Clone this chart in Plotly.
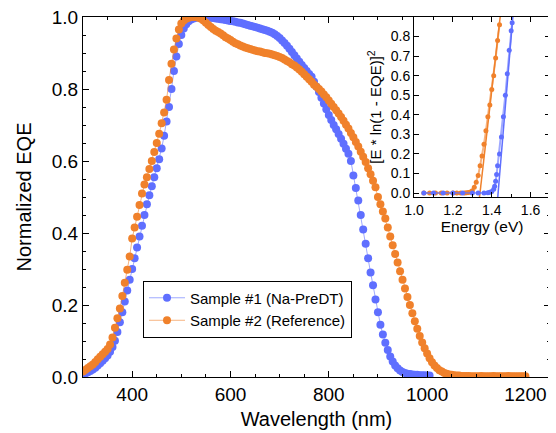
import plotly.graph_objects as go

# ---------------- main EQE data (normalized) ----------------
wl_orange = [
    300, 305, 310, 315, 320, 325, 330, 335, 340, 345, 350, 355, 360, 365, 370, 375, 380, 385, 390, 395,
    400, 405, 410, 415, 420, 425, 430, 435, 440, 445, 450, 455, 460, 465, 470, 475, 480, 485, 490, 495,
    500, 505, 510, 515, 520, 525, 530, 535, 540, 545, 550, 555, 560, 565, 570, 575, 580, 585, 590, 595,
    600, 605, 610, 615, 620, 625, 630, 635, 640, 645, 650, 655, 660, 665, 670, 675, 680, 685, 690, 695,
    700, 705, 710, 715, 720, 725, 730, 735, 740, 745, 750, 755, 760, 765, 770, 775, 780, 785, 790, 795,
    800, 805, 810, 815, 820, 825, 830, 835, 840, 845, 850, 855, 860, 865, 870, 875, 880, 885, 890, 895,
    900, 905, 910, 915, 920, 925, 930, 935, 940, 945, 950, 955, 960, 965, 970, 975, 980, 985, 990, 995,
    1000, 1005, 1010, 1015, 1020, 1025, 1030, 1035, 1040, 1045, 1050, 1055, 1060, 1065, 1070, 1075, 1080, 1085, 1090, 1095,
    1100, 1105, 1110, 1115, 1120, 1125, 1130, 1135, 1140, 1145, 1150, 1155, 1160, 1165, 1170, 1175, 1180, 1185, 1190, 1195, 1200,
]
eqe_orange = [
    0.015, 0.02, 0.025, 0.03, 0.035, 0.042, 0.049, 0.056, 0.063, 0.07, 0.078, 0.09, 0.11, 0.137, 0.163, 0.19, 0.225, 0.262, 0.298, 0.335,
    0.385, 0.415, 0.445, 0.478, 0.51, 0.535, 0.555, 0.578, 0.60, 0.625, 0.65, 0.676, 0.705, 0.735, 0.77, 0.825, 0.87, 0.91, 0.94, 0.965,
    0.982, 0.99, 0.995, 0.998, 1.0, 1.0, 1.0, 0.998, 0.995, 0.99, 0.984, 0.978, 0.972, 0.967, 0.962, 0.958, 0.954, 0.949, 0.944, 0.94,
    0.936, 0.931, 0.927, 0.924, 0.921, 0.918, 0.915, 0.913, 0.911, 0.909, 0.907, 0.905, 0.904, 0.902, 0.9, 0.899, 0.898, 0.896, 0.894, 0.892,
    0.889, 0.886, 0.882, 0.878, 0.874, 0.869, 0.865, 0.86, 0.854, 0.848, 0.841, 0.834, 0.827, 0.82, 0.812, 0.806, 0.8, 0.793, 0.785, 0.777,
    0.768, 0.759, 0.75, 0.741, 0.732, 0.722, 0.712, 0.701, 0.69, 0.678, 0.666, 0.653, 0.64, 0.626, 0.612, 0.597, 0.58, 0.563, 0.545, 0.527,
    0.5, 0.48, 0.46, 0.44, 0.415, 0.39, 0.366, 0.342, 0.318, 0.294, 0.27, 0.246, 0.222, 0.2, 0.177, 0.155, 0.134, 0.114, 0.096, 0.08,
    0.065, 0.052, 0.041, 0.032, 0.025, 0.019, 0.015, 0.011, 0.009, 0.007, 0.006, 0.005, 0.004, 0.004, 0.003, 0.003, 0.003, 0.003, 0.002, 0.002,
    0.002, 0.002, 0.003, 0.002, 0.002, 0.002, 0.002, 0.003, 0.002, 0.002, 0.002, 0.002, 0.002, 0.003, 0.002, 0.002, 0.002, 0.002, 0.002, 0.002, 0.002,
]

wl_blue = [
    300, 305, 310, 315, 320, 325, 330, 335, 340, 345, 350, 355, 360, 365, 370, 375, 380, 385, 390, 395,
    400, 405, 410, 415, 420, 425, 430, 435, 440, 445, 450, 455, 460, 465, 470, 475, 480, 485, 490, 495,
    500, 505, 510, 515, 520, 525, 530, 535, 540, 545, 550, 555, 560, 565, 570, 575, 580, 585, 590, 595,
    600, 605, 610, 615, 620, 625, 630, 635, 640, 645, 650, 655, 660, 665, 670, 675, 680, 685, 690, 695,
    700, 705, 710, 715, 720, 725, 730, 735, 740, 745, 750, 755, 760, 765, 770, 775, 780, 785, 790, 795,
    800, 805, 810, 815, 820, 825, 830, 835, 840, 845, 850, 855, 860, 865, 870, 875, 880, 885, 890, 895,
    900, 905, 910, 915, 920, 925, 930, 935, 940, 945, 950, 955, 960, 965, 970, 975, 980, 985, 990, 995, 1000, 1005,
]
eqe_blue = [
    0.008, 0.01, 0.013, 0.017, 0.021, 0.026, 0.032, 0.038, 0.045, 0.052, 0.06, 0.07, 0.083, 0.101, 0.125, 0.152, 0.18, 0.21, 0.24, 0.27,
    0.3, 0.33, 0.36, 0.39, 0.42, 0.45, 0.48, 0.505, 0.53, 0.555, 0.58, 0.605, 0.635, 0.67, 0.71, 0.75, 0.80, 0.85, 0.89, 0.925,
    0.95, 0.968, 0.98, 0.988, 0.993, 0.996, 0.998, 0.999, 1.0, 1.0, 1.0, 0.999, 0.998, 0.997, 0.996, 0.995, 0.994, 0.993, 0.992, 0.99,
    0.989, 0.988, 0.987, 0.985, 0.984, 0.982, 0.98, 0.978, 0.976, 0.974, 0.972, 0.97, 0.968, 0.966, 0.964, 0.962, 0.959, 0.956, 0.952, 0.947,
    0.942, 0.935, 0.928, 0.92, 0.912, 0.903, 0.894, 0.885, 0.876, 0.867, 0.858, 0.85, 0.842, 0.834, 0.82, 0.806, 0.792, 0.776, 0.76, 0.744,
    0.728, 0.714, 0.7, 0.688, 0.675, 0.662, 0.648, 0.634, 0.62, 0.6, 0.56, 0.525, 0.49, 0.45, 0.41, 0.37, 0.33, 0.29, 0.255, 0.215,
    0.18, 0.145, 0.118, 0.095, 0.075, 0.057, 0.043, 0.032, 0.024, 0.018, 0.014, 0.011, 0.009, 0.008, 0.007, 0.006, 0.006, 0.005, 0.005, 0.005, 0.004, 0.004,
]

# ---------------- inset: [E * ln(1 - EQE)]^2 vs energy ----------------
e_orange = [1.05, 1.08, 1.11, 1.14, 1.17, 1.20, 1.22, 1.24, 1.26, 1.27, 1.28, 1.29, 1.30, 1.31,
            1.32, 1.33, 1.34, 1.35, 1.36, 1.37, 1.38, 1.39, 1.40, 1.41, 1.42, 1.43, 1.44]
t_orange = [0.0, 0.0, 0.0, 0.0, 0.0, 0.0, 0.0, 0.001, 0.001, 0.002, 0.003, 0.006, 0.012, 0.03,
            0.055, 0.09, 0.14, 0.19, 0.25, 0.318, 0.39, 0.45, 0.53, 0.6, 0.69, 0.78, 0.86]
e_blue = [1.05, 1.10, 1.15, 1.20, 1.25, 1.30, 1.33, 1.36, 1.38, 1.39, 1.40, 1.41, 1.415, 1.42,
          1.425, 1.43, 1.44, 1.45, 1.46, 1.47, 1.48, 1.49, 1.50, 1.505]
t_blue = [0.0, 0.0, 0.0, 0.0, 0.0, 0.0, 0.0, 0.001, 0.002, 0.004, 0.008, 0.02, 0.035, 0.06,
          0.095, 0.14, 0.2, 0.287, 0.39, 0.5, 0.61, 0.73, 0.83, 0.87]
fit_orange_e = [1.337, 1.444]
fit_orange_t = [-0.02, 0.906]
fit_blue_e = [1.431, 1.509]
fit_blue_t = [-0.02, 0.906]

main_x_ticks = [400, 600, 800, 1000, 1200]
main_y_ticks = [0.0, 0.2, 0.4, 0.6, 0.8, 1.0]
inset_x_ticks = [1.0, 1.2, 1.4, 1.6]
inset_y_ticks = [0.0, 0.1, 0.2, 0.3, 0.4, 0.5, 0.6, 0.7, 0.8]

BLUE = "#5F6FFF"
ORANGE = "#F0812B"
FONT = "Liberation Sans, Arial, Helvetica, sans-serif"

fig = go.Figure()

fig.add_trace(go.Scatter(
    x=wl_blue, y=eqe_blue, mode="lines+markers", name="Sample #1 (Na-PreDT)",
    line=dict(color="rgba(95,111,255,0.6)", width=1),
    marker=dict(color=BLUE, size=8, line=dict(width=0)),
    xaxis="x", yaxis="y"))
fig.add_trace(go.Scatter(
    x=wl_orange, y=eqe_orange, mode="lines+markers", name="Sample #2 (Reference)",
    line=dict(color="rgba(240,129,43,0.6)", width=1),
    marker=dict(color=ORANGE, size=8, line=dict(width=0)),
    xaxis="x", yaxis="y"))

# inset traces
fig.add_trace(go.Scatter(
    x=e_orange, y=t_orange, mode="lines+markers", showlegend=False,
    line=dict(color="rgba(240,129,43,0.6)", width=2),
    marker=dict(color=ORANGE, size=5),
    xaxis="x2", yaxis="y2"))
fig.add_trace(go.Scatter(
    x=fit_orange_e, y=fit_orange_t, mode="lines", showlegend=False,
    line=dict(color=ORANGE, width=1.5),
    xaxis="x2", yaxis="y2"))
fig.add_trace(go.Scatter(
    x=e_blue, y=t_blue, mode="lines+markers", showlegend=False,
    line=dict(color="rgba(95,111,255,0.6)", width=2),
    marker=dict(color=BLUE, size=5),
    xaxis="x2", yaxis="y2"))
fig.add_trace(go.Scatter(
    x=fit_blue_e, y=fit_blue_t, mode="lines", showlegend=False,
    line=dict(color=BLUE, width=1.5),
    xaxis="x2", yaxis="y2"))

axis_common = dict(showline=True, linecolor="black", linewidth=1, mirror="ticks",
                   ticks="inside", tickcolor="black", showgrid=False, zeroline=False,
                   automargin=False, ticklabeloverflow="allow")

# the page body adds an 8px offset on the left and top, so the figure is 8px smaller
fig.update_layout(
    width=548, height=425,
    margin=dict(l=75, r=6, t=9, b=56),
    paper_bgcolor="white", plot_bgcolor="white",
    font=dict(family=FONT, color="black"),
    showlegend=True,
    legend=dict(x=0.1285, y=0.268, xanchor="left", yanchor="top",
                bordercolor="black", borderwidth=1, bgcolor="white",
                itemwidth=36,
                font=dict(size=15, family=FONT), tracegroupgap=0),
    xaxis=dict(domain=[0, 1], range=[300, 1250], tickvals=main_x_ticks,
               ticklen=6, tickfont=dict(size=19),
               minor=dict(dtick=50, ticks="inside", ticklen=3, tickcolor="black"),
               title=dict(text="Wavelength (nm)", font=dict(size=20), standoff=8),
               anchor="y", **axis_common),
    yaxis=dict(domain=[0, 1], range=[0, 1.0], tickvals=main_y_ticks, tickformat=".1f",
               ticklen=6, tickfont=dict(size=19),
               minor=dict(dtick=0.05, ticks="inside", ticklen=3, tickcolor="black"),
               title=dict(text="Normalized EQE", font=dict(size=20), standoff=14),
               anchor="x", **axis_common),
    xaxis2=dict(domain=[0.709, 1.0], range=[1.0, 1.7], tickvals=inset_x_ticks, tickformat=".1f",
                ticklen=5, tickfont=dict(size=14),
                minor=dict(dtick=0.1, ticks="inside", ticklen=3, tickcolor="black"),
                title=dict(text="Energy (eV)", font=dict(size=15.5), standoff=2),
                anchor="y2", **axis_common),
    yaxis2=dict(domain=[0.5, 1.0], range=[-0.02, 0.9], tickvals=inset_y_ticks, tickformat=".1f",
                ticklen=5, tickfont=dict(size=14),
                title=dict(text="[E * ln(1 - EQE)]<sup>2</sup>", font=dict(size=15), standoff=5),
                anchor="x2", **axis_common),
)

fig.write_html("out.html")
